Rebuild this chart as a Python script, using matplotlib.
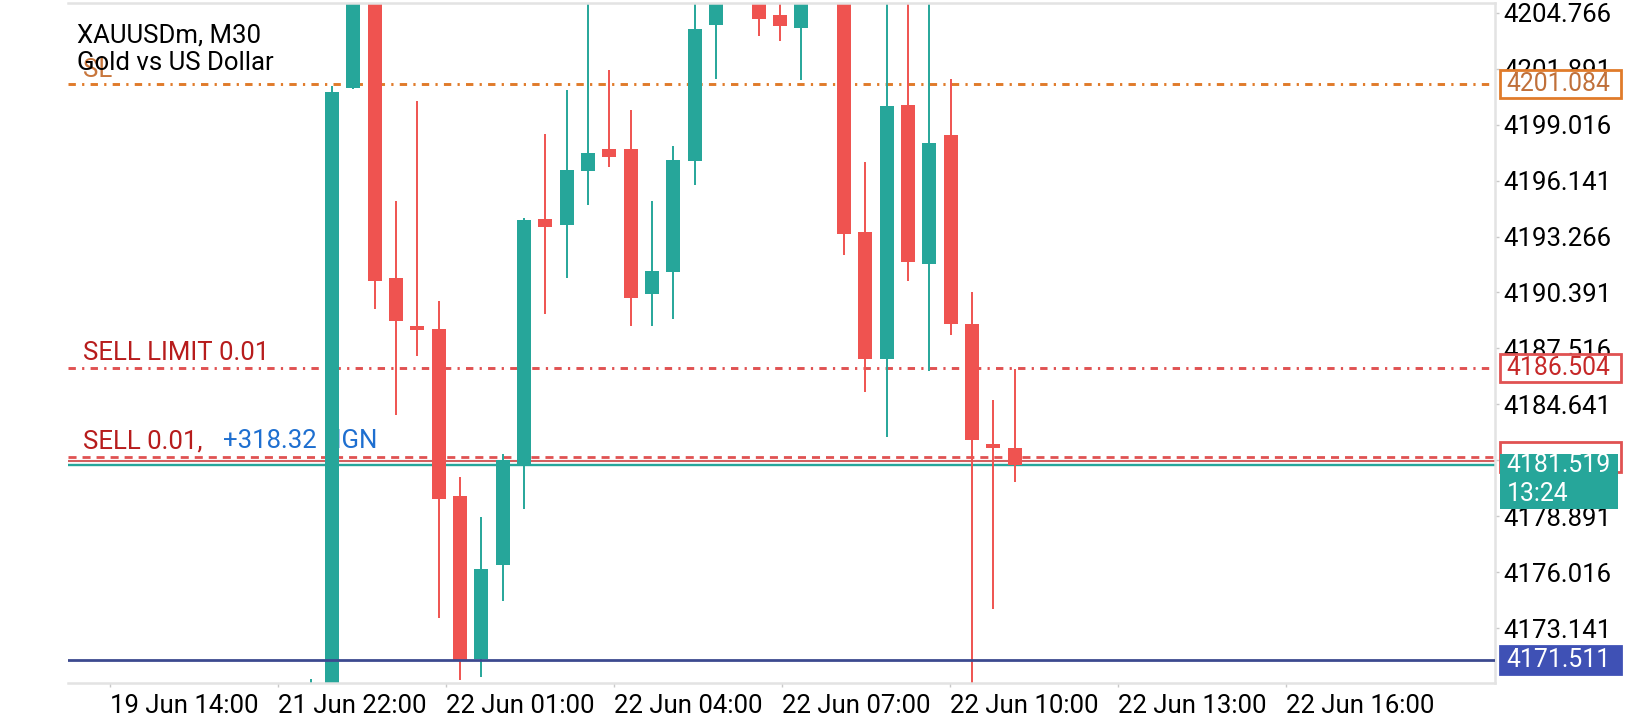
import matplotlib.pyplot as plt
from matplotlib.patches import Rectangle
from matplotlib.transforms import blended_transform_factory

plt.rcParams['font.family'] = ['Roboto', 'DejaVu Sans']
plt.rcParams['lines.scale_dashes'] = False

# M30 bars, index 0 = the big green bar at the 21 Jun open
bar_idx = list(range(-1, 33))
opens = [4166.00, 4168.20, 4200.91, 4207.20, 4191.15, 4188.68, 4188.52, 4179.92,
         4171.55, 4176.39, 4181.53, 4194.16, 4193.86, 4196.63, 4197.76, 4197.76,
         4190.31, 4191.45, 4197.16, 4204.14, 4206.20, 4206.00, 4204.64, 4203.99,
         4206.10, 4207.00, 4193.52, 4186.95, 4200.02, 4191.85, 4198.46, 4188.79,
         4182.62, 4182.40]
highs = [4170.55, 4200.98, 4207.00, 4207.60, 4195.09, 4200.23, 4189.95, 4180.90,
         4178.86, 4182.08, 4194.20, 4198.53, 4200.79, 4205.80, 4201.82, 4199.76,
         4195.09, 4197.91, 4206.20, 4206.80, 4207.40, 4206.50, 4206.00, 4206.60,
         4207.80, 4207.50, 4197.07, 4206.30, 4206.50, 4206.40, 4201.34, 4190.44,
         4184.87, 4186.45]
lows = [4165.50, 4167.60, 4200.84, 4189.53, 4184.09, 4187.15, 4173.69, 4170.47,
        4170.64, 4174.56, 4179.27, 4189.30, 4191.15, 4194.90, 4196.85, 4188.68,
        4188.68, 4189.04, 4195.93, 4201.36, 4205.70, 4203.58, 4203.32, 4201.30,
        4205.60, 4192.30, 4185.26, 4182.98, 4190.96, 4186.38, 4188.23, 4169.00,
        4174.14, 4180.66]
closes = [4168.00, 4200.67, 4206.60, 4191.00, 4188.94, 4188.47, 4179.78, 4171.48,
          4176.19, 4181.77, 4194.11, 4193.75, 4196.68, 4197.56, 4197.36, 4190.12,
          4191.49, 4197.20, 4203.92, 4206.30, 4206.90, 4204.45, 4204.09, 4206.10,
          4207.20, 4193.41, 4186.99, 4199.95, 4191.96, 4198.09, 4188.75, 4182.83,
          4182.38, 4181.519]

price_ticks = [4173.141, 4176.016, 4178.891, 4181.766, 4184.641, 4187.516,
               4190.391, 4193.266, 4196.141, 4199.016, 4201.891, 4204.766]
time_labels = ['19 Jun 14:00', '21 Jun 22:00', '22 Jun 01:00', '22 Jun 04:00',
               '22 Jun 07:00', '22 Jun 10:00', '22 Jun 13:00', '22 Jun 16:00']
time_tick_pos = [-10.42, -2.55, 5.33, 13.20, 21.08, 28.96, 36.84, 44.71]

sl_price = 4201.084
sell_limit_price = 4186.504
sell_price = 4181.94
ask_price = 4181.75
bid_price = 4181.519
hline_price = 4171.511
profit_text = '+318.32 NGN'
bar_timer = '13:24'

green = '#26a69a'
red = '#ef5350'
fs = 18.5
box_fs = 17.8

fig = plt.figure(figsize=(16.4, 7.2), dpi=100)
ax = fig.add_axes([68 / 1640, 1 - 683 / 720, (1495 - 68) / 1640, (683 - 3) / 720])

# candles
for x, o, h, l, c in zip(bar_idx, opens, highs, lows, closes):
    col = green if c >= o else red
    ax.vlines(x, l, h, color=col, lw=1.4, zorder=2)
    ax.bar(x, max(abs(c - o), 0.12), bottom=min(o, c), width=0.66, color=col,
           zorder=2.1)

# trade levels
dashdot = (0, (5.3, 4.5, 1.6, 4.5))
ax.axhline(sl_price, color='#e07b2a', lw=2.1, linestyle=dashdot, zorder=1)
ax.axhline(sell_limit_price, color='#e05252', lw=2.1, linestyle=dashdot, zorder=1)
ax.axhline(sell_price, color='#e05252', lw=2.0, linestyle=(0, (5.8, 4.3)), zorder=1)
ax.axhline(ask_price, color='#d35f5f', lw=1.5, zorder=1)
ax.axhline(bid_price, color=green, lw=1.7, zorder=1)
ax.axhline(hline_price, color='#3c4a8f', lw=2.0, zorder=3)

ytr = ax.get_yaxis_transform()
ax.annotate('SL', xy=(0.0105, sl_price), xycoords=ytr, xytext=(0, 5.0),
            textcoords='offset points', color='#c8763c', fontsize=fs,
            va='baseline', zorder=1)
ax.annotate('SELL LIMIT 0.01', xy=(0.0105, sell_limit_price), xycoords=ytr,
            xytext=(0, 5.8), textcoords='offset points', color='#b71c1c',
            fontsize=fs, va='baseline', zorder=1)
ax.annotate('SELL 0.01,', xy=(0.0105, sell_price), xycoords=ytr,
            xytext=(0, 6.2), textcoords='offset points', color='#b71c1c',
            fontsize=fs, va='baseline', zorder=1)
ax.annotate(profit_text, xy=(0.1086, sell_price), xycoords=ytr,
            xytext=(0, 6.2), textcoords='offset points', color='#1e6fd0',
            fontsize=fs, va='baseline', zorder=1)

# axes look
ax.set_xlim(-12.38, 54.52)
ax.set_ylim(4170.334, 4205.26)
ax.set_xticks(time_tick_pos)
ax.set_xticklabels(time_labels)
for lab in ax.get_xticklabels():
    lab.set_ha('left')
ax.set_yticks(price_ticks)
ax.set_yticklabels([f'{p:.3f}' for p in price_ticks])
ax.yaxis.tick_right()
ax.tick_params(axis='y', length=3, width=1, color='#c8c8c8', pad=3,
               labelsize=fs, labelcolor='black')
ax.tick_params(axis='x', length=3, width=1, color='#c8c8c8', pad=5,
               labelsize=fs, labelcolor='black')
ax.spines['left'].set_visible(False)
for side in ['top', 'right', 'bottom']:
    ax.spines[side].set_color('#e3e3e3')
    ax.spines[side].set_linewidth(1.8)

fig.text(77 / 1640, 1 - 42.5 / 720, 'XAUUSDm, M30', fontsize=fs, color='black',
         va='baseline')
fig.text(77 / 1640, 1 - 70 / 720, 'Gold vs US Dollar', fontsize=fs,
         color='black', va='baseline')

# price boxes on the right scale
bt = blended_transform_factory(ax.transAxes, ax.transData)
box_x = 1.0035
box_w = 0.0848
text_x = 1.0080


def price_box(price, label, face, edge, tcolor, z, half=0.72):
    fig.add_artist(Rectangle((box_x, price - half), box_w, 2 * half,
                             transform=bt, facecolor=face, edgecolor=edge,
                             lw=2.0, zorder=z))
    if label:
        fig.text(text_x, price, label, transform=bt, fontsize=box_fs,
                 color=tcolor, va='center', ha='left', zorder=z + 0.1)


price_box(sl_price, f'{sl_price:.3f}', 'white', '#e07b2a', '#c0703a', 4)
price_box(sell_limit_price, f'{sell_limit_price:.3f}', 'white', '#e05252',
          '#c62828', 4)
# the position box sits behind the bid box, only its frame peeks out
price_box(sell_price, None, 'white', '#e05252', '#c62828', 4, half=0.76)
price_box(hline_price, f'{hline_price:.3f}', '#3f51b5', '#3f51b5', 'white', 6)
fig.add_artist(Rectangle((box_x, bid_price - 2.24), box_w - 0.002, 2.8,
                         transform=bt, facecolor=green, edgecolor=green,
                         lw=0, zorder=6))
fig.text(text_x, bid_price, f'{bid_price:.3f}', transform=bt, fontsize=box_fs,
         color='white', va='center', ha='left', zorder=6.1)
fig.text(text_x, bid_price - 1.47, bar_timer, transform=bt, fontsize=box_fs,
         color='white', va='center', ha='left', zorder=6.1)

plt.savefig('out.png', dpi=100)
